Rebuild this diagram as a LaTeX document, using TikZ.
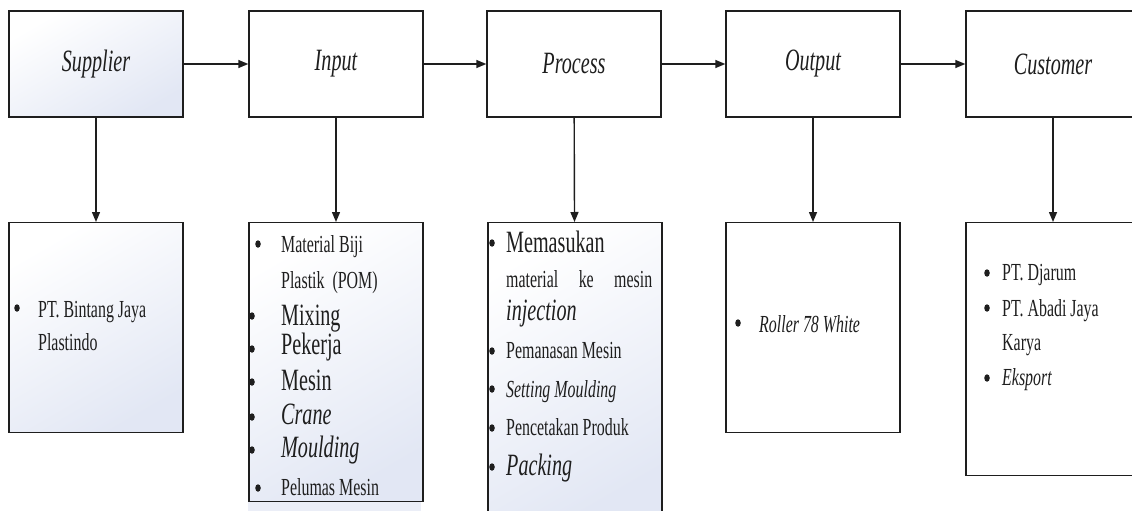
\documentclass[tikz,border=0pt]{standalone}
\usepackage{fontspec}
\setmainfont{Liberation Serif}
\newfontfamily\narrow[FakeStretch=0.65]{Liberation Serif}
\usetikzlibrary{arrows.meta,shapes.geometric}
\definecolor{paleblue}{RGB}{226,231,244}
\definecolor{ink}{RGB}{30,30,30}

\begin{document}
\begin{tikzpicture}[x=1pt,y=-1pt,
  stage/.style={draw=ink,line width=1.4pt,minimum width=174pt,minimum height=106pt,
    inner sep=0pt,text=ink,font=\narrow\fontsize{31}{35}\selectfont\itshape},
  detail/.style={draw=ink,line width=1.4pt,minimum width=174pt,inner sep=0pt,anchor=north},
  shaded/.style={top color=white,bottom color=paleblue,shading angle=30},
  big/.style={anchor=base west,inner sep=0pt,text=ink,font=\narrow\fontsize{31}{35}\selectfont},
  small/.style={anchor=base west,inner sep=0pt,text=ink,font=\narrow\fontsize{24.5}{28}\selectfont},
  dot/.style={ellipse,fill=ink,inner sep=0pt,minimum width=5.5pt,minimum height=7.5pt},
  flow/.style={-{Triangle[length=10pt,width=8pt]},line width=1.4pt,draw=ink}
]
  \useasboundingbox (0,0) rectangle (1132,511);
  \clip (0,0) rectangle (1132,511);
  \fill[white] (0,0) rectangle (1132,511);

  % top row
  \node[stage,shaded] (sup) at (96,64) {Supplier};
  \node[stage,fill=white] (inp) at (336,64) {Input};
  \node[stage,fill=white] (pro) at (574,64) {Process};
  \node[stage,fill=white] (out) at (813,64) {Output};
  \node[stage,fill=white] (cus) at (1053,64) {Customer};

  % detail boxes
  \fill[paleblue!70] (248,500) rectangle (421,511);
  \node[detail,shaded,minimum height=210pt] (supd) at (96,222) {};
  \node[detail,shaded,minimum height=279pt] (inpd) at (336,222) {};
  \node[detail,shaded,minimum height=300pt] (prod) at (575,222) {};
  \node[detail,fill=white,minimum height=210pt] (outd) at (813,222) {};
  \node[detail,fill=white,minimum height=253pt] (cusd) at (1053,222) {};

  \draw[flow] (sup) -- (inp);
  \draw[flow] (inp) -- (pro);
  \draw[flow] (pro) -- (out);
  \draw[flow] (out) -- (cus);
  \draw[flow] (sup) -- (supd);
  \draw[flow] (inp) -- (inpd);
  \draw[flow] (pro) -- (prod);
  \draw[flow] (out) -- (outd);
  \draw[flow] (cus) -- (cusd);

  % supplier
  \node[dot] (s1b) at (17,308) {};
  \node[small] (s1) at (38,317) {PT.\ Bintang Jaya};
  \node[small] (s2) at (38,350) {Plastindo};

  % input
  \node[dot] (i1b) at (258,244) {};
  \node[small] (i1) at (281,252) {Material Biji};
  \node[small] (i2) at (281,288) {Plastik \ (POM)};
  \node[dot] (i3b) at (252,316) {};
  \node[big] (i3) at (281,325) {Mixing};
  \node[dot] (i4b) at (252,349) {};
  \node[big] (i4) at (281,354) {Pekerja};
  \node[dot] (i5b) at (252,382) {};
  \node[big] (i5) at (281,390) {Mesin};
  \node[dot] (i6b) at (252,417) {};
  \node[big,font=\narrow\fontsize{31}{35}\selectfont\itshape] (i6) at (281,424) {Crane};
  \node[dot] (i7b) at (252,450) {};
  \node[big,font=\narrow\fontsize{31}{35}\selectfont\itshape] (i7) at (281,457) {Moulding};
  \node[dot] (i8b) at (258,488) {};
  \node[small] (i8) at (281,495) {Pelumas Mesin};

  % process
  \node[dot] (p1b) at (492,243) {};
  \node[big] (p1) at (506,252) {Memasukan};
  \node[small] (p2) at (506,287) {\makebox[146pt][s]{material ke mesin}};
  \node[big,font=\narrow\fontsize{31}{35}\selectfont\itshape] (p3) at (506,320) {injection};
  \node[dot] (p4b) at (492,351) {};
  \node[small] (p4) at (506,358) {Pemanasan Mesin};
  \node[dot] (p5b) at (492,389) {};
  \node[small,font=\narrow\fontsize{24.5}{28}\selectfont\itshape] (p5) at (506,397) {Setting Moulding};
  \node[dot] (p6b) at (492,428) {};
  \node[small] (p6) at (506,435) {Pencetakan Produk};
  \node[dot] (p7b) at (492,467) {};
  \node[big,font=\narrow\fontsize{31}{35}\selectfont\itshape] (p7) at (506,475) {Packing};

  % output
  \node[dot] (o1b) at (738,323) {};
  \node[small,font=\narrow\fontsize{24.5}{28}\selectfont\itshape] (o1) at (759,332) {Roller 78 White};

  % customer
  \node[dot] (c1b) at (987,273) {};
  \node[small] (c1) at (1002,280) {PT.\ Djarum};
  \node[dot] (c2b) at (987,308) {};
  \node[small] (c2) at (1002,316) {PT.\ Abadi Jaya};
  \node[small] (c3) at (1002,350) {Karya};
  \node[dot] (c4b) at (987,378) {};
  \node[small,font=\narrow\fontsize{24.5}{28}\selectfont\itshape] (c4) at (1002,385) {Eksport};
\end{tikzpicture}
\end{document}
